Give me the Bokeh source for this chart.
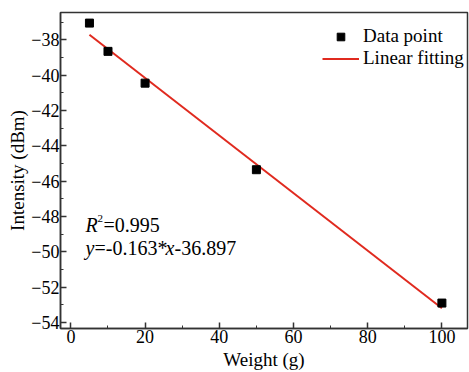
from bokeh.plotting import figure
from bokeh.models import (ColumnDataSource, Range1d, SingleIntervalTicker, Legend, LegendItem,
                          Label, CustomJSTickFormatter)
from bokeh.embed import file_html
from bokeh.resources import INLINE

# Data
weight = [5, 10, 20, 50, 100]
intensity = [-37.05, -38.65, -40.45, -45.35, -52.9]
fit_x = [5, 100]
fit_y = [-37.712, -53.197]
x_ticks_interval = 20
y_ticks_interval = 2

FONT = "'Liberation Serif', 'Times New Roman', serif"

p = figure(width=469, height=372, output_backend="svg", toolbar_location=None,
           x_range=Range1d(-2.8, 106.9), y_range=Range1d(-54.34, -36.45),
           min_border_left=60, min_border_right=2, min_border_top=12, min_border_bottom=43)
p.xgrid.visible = False
p.ygrid.visible = False
p.background_fill_color = "white"
p.border_fill_color = "white"
p.outline_line_color = "#333333"
p.outline_line_width = 1.5

src = ColumnDataSource(dict(x=weight, y=intensity))
fsrc = ColumnDataSource(dict(x=fit_x, y=fit_y))
r_line = p.line("x", "y", source=fsrc, line_color="#e02a1f", line_width=2)
r_pts = p.scatter("x", "y", source=src, marker="square", size=8, fill_color="black", line_color="black")

fmt = CustomJSTickFormatter(code="return tick < 0 ? '\u2212' + Math.abs(tick) : '' + tick;")

for ax, interval in ((p.xaxis[0], x_ticks_interval), (p.yaxis[0], y_ticks_interval)):
    ax.ticker = SingleIntervalTicker(interval=interval, num_minor_ticks=2)
    ax.major_tick_in = 6
    ax.major_tick_out = 0
    ax.minor_tick_in = 3
    ax.minor_tick_out = 0
    ax.axis_line_color = "#333333"
    ax.axis_line_width = 1.5
    ax.major_tick_line_color = "#333333"
    ax.minor_tick_line_color = "#333333"
    ax.major_tick_line_width = 1.5
    ax.major_label_text_font = FONT
    ax.major_label_text_font_size = "18px"
    ax.major_label_text_color = "black"
    ax.axis_label_text_font = FONT
    ax.axis_label_text_font_style = "normal"
    ax.axis_label_text_color = "black"
    ax.axis_label_text_font_size = "19px"
    ax.major_label_standoff = 1

p.xaxis[0].axis_label_standoff = 3
p.yaxis[0].axis_label_standoff = 0
p.xaxis[0].axis_label = "Weight (g)"
p.yaxis[0].axis_label = "Intensity (dBm)"
p.yaxis[0].formatter = fmt

legend = Legend(items=[LegendItem(label="Data point", renderers=[r_pts]),
                       LegendItem(label="Linear fitting", renderers=[r_line])],
                location=(262, 259), border_line_color=None, background_fill_alpha=0,
                label_text_font=FONT, label_text_font_size="19px", label_text_color="black",
                glyph_width=37, glyph_height=19, label_standoff=4, spacing=0, padding=0, margin=0,
                label_height=19)
p.add_layout(legend)

def lab(x, y, text, size="20px", style="normal"):
    # screen units are relative to the plot frame (bottom-left)
    p.add_layout(Label(x=x, y=y, x_units="screen", y_units="screen", text=text,
                       text_font=FONT, text_font_size=size, text_font_style=style,
                       text_color="black", text_baseline="middle"))

lab(25, 104, "R", style="italic")
lab(37, 110, "2", size="11px")
lab(43, 104, "=0.995")
lab(25, 81, "y", style="italic")
lab(34, 81, "=-0.163*")
lab(105, 81, "x", style="italic")
lab(114, 81, "-36.897")

open("out.html", "w").write(file_html(p, INLINE))
